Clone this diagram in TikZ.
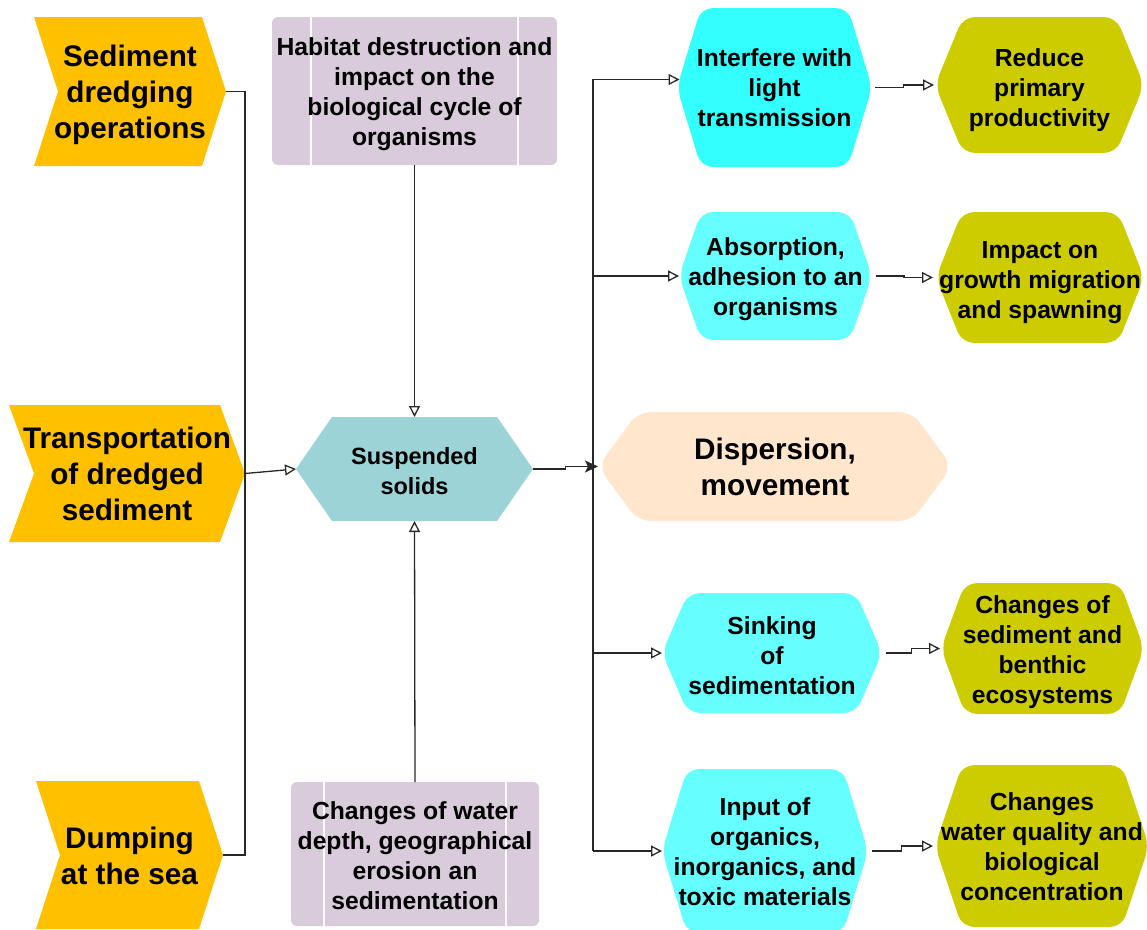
\documentclass[tikz,border=0pt]{standalone}
\usepackage{fontspec}
\setmainfont{Liberation Sans}
\usetikzlibrary{calc,arrows.meta}
\definecolor{chevc}{RGB}{255,192,0}
\definecolor{boxc}{RGB}{217,203,219}
\definecolor{tealc}{RGB}{155,211,214}
\definecolor{peachc}{RGB}{255,230,204}
\definecolor{cyanA}{RGB}{51,255,255}
\definecolor{cyanB}{RGB}{102,255,255}
\definecolor{olivec}{RGB}{204,204,0}
\definecolor{lineclr}{RGB}{40,40,40}
\begin{document}
\begin{tikzpicture}[x=1pt,y=-1pt,
  lbl/.style={inner sep=0pt, align=center, text=black,
    font=\bfseries\fontsize{24.7}{30}\selectfont},
  big/.style={font=\bfseries\fontsize{29.7}{36}\selectfont},
  shp/.style={inner sep=0pt, outer sep=0pt},
  chev/.style n args={3}{shp, minimum width=#1, minimum height=#2,
    path picture={\fill[chevc] (path picture bounding box.north west)
      -- ($(path picture bounding box.north east)+(-#3,0)$)
      -- (path picture bounding box.east)
      -- ($(path picture bounding box.south east)+(-#3,0)$)
      -- (path picture bounding box.south west)
      -- ($(path picture bounding box.west)+(#3,0)$) -- cycle;}},
  hexa/.style n args={5}{shp, minimum width=#1, minimum height=#2,
    path picture={\fill[#4, rounded corners=#5] (path picture bounding box.west)
      -- ($(path picture bounding box.north west)+(#3,0)$)
      -- ($(path picture bounding box.north east)+(-#3,0)$)
      -- (path picture bounding box.east)
      -- ($(path picture bounding box.south east)+(-#3,0)$)
      -- ($(path picture bounding box.south west)+(#3,0)$) -- cycle;}},
  boxn/.style n args={3}{shp, minimum width=#1, minimum height=#2,
    path picture={\fill[boxc, rounded corners=6pt] (path picture bounding box.south west)
      rectangle (path picture bounding box.north east);
      \draw[white, line width=2pt] ($(path picture bounding box.north west)+(#3,0)$)
        -- ($(path picture bounding box.south west)+(#3,0)$);
      \draw[white, line width=2pt] ($(path picture bounding box.north east)+(-#3,0)$)
        -- ($(path picture bounding box.south east)+(-#3,0)$);}},
  ln/.style={draw=lineclr, line width=1.3pt},
  arr/.style={ln, -{Triangle[open, length=11pt, width=11pt]}},
  arrF/.style={ln, -{Stealth[length=13pt, width=12pt, inset=3pt]}}
]
\useasboundingbox (0,0) rectangle (1147,929);

% left chevrons
\node[chev={192}{149}{24}] (c1) at (130,91.5) {};
\node[lbl, big] (c1t) at ($(c1)+(0,3)$) {Sediment\\dredging\\operations};
\node[chev={236}{137}{25}] (c2) at (127,473.5) {};
\node[lbl, big] (c2t) at ($(c2)+(0,0)$) {Transportation\\of dredged\\sediment};
\node[chev={187}{148}{24}] (c3) at (129.5,855) {};
\node[lbl, big] (c3t) at ($(c3)+(0,1)$) {Dumping\\at the sea};

% boxes
\node[boxn={285}{148}{39}] (hab) at (414.5,91) {};
\node[lbl] (habt) at ($(hab)+(0,3)$) {Habitat destruction and\\impact on the\\biological cycle of\\organisms};
\node[boxn={248}{144}{33}] (wat) at (415,854) {};
\node[lbl] (watt) at ($(wat)+(0,2)$) {Changes of water\\depth, geographical\\erosion an\\sedimentation};

% centre
\node[hexa={237}{104}{36}{tealc}{0pt}] (ss) at (414.5,469) {};
\node[lbl, font=\bfseries\fontsize{23.5}{30}\selectfont] (sst) at ($(ss)+(0,2)$) {Suspended\\solids};
\node[hexa={354}{109}{40}{peachc}{13pt}] (disp) at (775,466.5) {};
\node[lbl, big] (dispt) at ($(disp)+(0,0)$) {Dispersion,\\movement};

% right column
\node[hexa={195}{159}{24}{cyanA}{12pt}] (inter) at (774.5,87.5) {};
\node[lbl] (intert) at ($(inter)+(0,0)$) {Interfere with\\light\\transmission};
\node[hexa={209}{136}{28}{olivec}{12pt}] (red) at (1039.5,85) {};
\node[lbl] (redt) at ($(red)+(0,5)$) {Reduce\\primary\\productivity};
\node[hexa={193}{128}{22}{cyanB}{12pt}] (abs) at (775.5,276) {};
\node[lbl] (abst) at ($(abs)+(0,3)$) {Absorption,\\adhesion to an\\organisms};
\node[hexa={208}{131}{26}{olivec}{12pt}] (imp) at (1040,277.5) {};
\node[lbl] (impt) at ($(imp)+(0,5)$) {Impact on\\growth migration\\and spawning};
\node[hexa={220}{120}{26}{cyanB}{12pt}] (sink) at (772,653) {};
\node[lbl] (sinkt) at ($(sink)+(0,3)$) {Sinking\\of\\sedimentation};
\node[hexa={203}{131}{24}{olivec}{12pt}] (csed) at (1042.5,648.5) {};
\node[lbl] (csedt) at ($(csed)+(0,4)$) {Changes of\\sediment and\\benthic\\ecosystems};
\node[hexa={206}{164}{25}{cyanB}{12pt}] (inp) at (765,851) {};
\node[lbl] (inpt) at ($(inp)+(0,1)$) {Input of\\organics,\\inorganics, and\\toxic materials};
\node[hexa={214}{162}{27}{olivec}{12pt}] (cwat) at (1042,846) {};
\node[lbl] (cwatt) at ($(cwat)+(0,1)$) {Changes\\water quality and\\biological\\concentration};

% left bus
\coordinate (busL) at (245,0);
\draw[ln] (c1.east) -| (busL |- c3.east) -- (c3.east);
\draw[arr] (c2.east) -- (ss.west);
\draw[arr] (hab.south) -- (ss.north);
\draw[arr] (wat.north) -- (ss.south);
\draw[arrF] (ss.east) -| ($(ss.east)!.5!(disp.west)$) |- (disp.west);

% right trunk
\coordinate (tr) at (593,0);
\coordinate (t1) at ($(inter.west)+(2.5,-8)$);
\draw[arr] (tr |- inp.west) |- (t1);
\draw[arr] (tr |- abs.west) -- (abs.west);
\draw[arr] (tr |- sink.west) -- (sink.west);
\draw[arr] (tr |- inp.west) -- (inp.west);

% right jogged arrows
\draw[arr, shorten <=3pt, shorten >=1pt] (inter.east) -| ($(inter.east)!.5!(red.west)$) |- (red.west);
\draw[arr, shorten <=4pt, shorten >=3pt] (abs.east) -| ($(abs.east)!.5!(imp.west)$) |- (imp.west);
\draw[arr, shorten <=4pt, shorten >=1pt] (sink.east) -| ($(sink.east)!.5!(csed.west)$) |- (csed.west);
\draw[arr, shorten <=4pt, shorten >=2pt] (inp.east) -| ($(inp.east)!.5!(cwat.west)$) |- (cwat.west);
\end{tikzpicture}
\end{document}
